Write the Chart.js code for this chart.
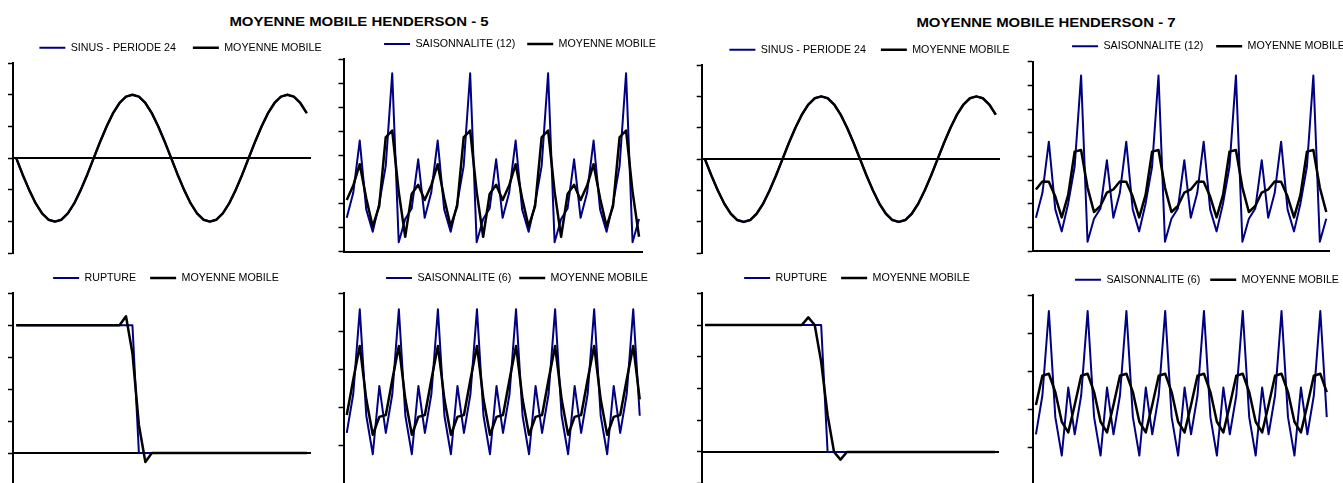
<!DOCTYPE html>
<html lang="fr">
<head>
<meta charset="utf-8">
<title>Moyennes mobiles de Henderson</title>
<script src="https://cdn.jsdelivr.net/npm/chart.js"></script>
<style>
  html, body { margin: 0; padding: 0; background: #fff; }
  body { width: 1343px; height: 483px; position: relative; overflow: hidden; }
  canvas { position: absolute; }
  .titre {
    position: absolute;
    font: bold 13px 'Liberation Sans', Arial, sans-serif;
    line-height: 13px;
    white-space: nowrap;
    color: #000;
    transform: translateX(-50%) scaleX(1.15);
    transform-origin: center;
  }
</style>
</head>
<body>
<div class="titre" style="left:359px; top:15px">MOYENNE MOBILE HENDERSON - 5</div>
<div class="titre" style="left:1046px; top:16px">MOYENNE MOBILE HENDERSON - 7</div>
<canvas id="sinusH5"></canvas>
<canvas id="saison12H5"></canvas>
<canvas id="ruptureH5"></canvas>
<canvas id="saison6H5"></canvas>
<canvas id="sinusH7"></canvas>
<canvas id="saison12H7"></canvas>
<canvas id="ruptureH7"></canvas>
<canvas id="saison6H7"></canvas>
<script>
// Periods shown on every panel
const periodes = [1, 2, 3, 4, 5, 6, 7, 8, 9, 10, 11, 12, 13, 14, 15, 16, 17, 18, 19, 20, 21, 22, 23,
  24, 25, 26, 27, 28, 29, 30, 31, 32, 33, 34, 35, 36, 37, 38, 39, 40, 41, 42, 43, 44, 45, 46];

// Sine wave, period 24, and its Henderson smoothings
const sinus = [0, -0.26, -0.5, -0.71, -0.87, -0.97, -1, -0.97, -0.87, -0.71, -0.5, -0.26,
  0, 0.26, 0.5, 0.71, 0.87, 0.97, 1, 0.97, 0.87, 0.71, 0.5, 0.26,
  0, -0.26, -0.5, -0.71, -0.87, -0.97, -1, -0.97, -0.87, -0.71, -0.5, -0.26,
  0, 0.26, 0.5, 0.71, 0.87, 0.97, 1, 0.97, 0.87, 0.71];
const sinusMM5 = [0, -0.26, -0.5, -0.71, -0.87, -0.97, -1, -0.97, -0.87, -0.71, -0.5, -0.26,
  0, 0.26, 0.5, 0.71, 0.87, 0.97, 1, 0.97, 0.87, 0.71, 0.5, 0.26,
  0, -0.26, -0.5, -0.71, -0.87, -0.97, -1, -0.97, -0.87, -0.71, -0.5, -0.26,
  0, 0.26, 0.5, 0.71, 0.87, 0.97, 1, 0.97, 0.87, 0.71];
const sinusMM7 = [0, -0.26, -0.5, -0.71, -0.87, -0.97, -1, -0.97, -0.87, -0.71, -0.5, -0.26,
  0, 0.26, 0.5, 0.71, 0.87, 0.97, 1, 0.97, 0.87, 0.71, 0.5, 0.26,
  0, -0.26, -0.5, -0.71, -0.87, -0.97, -1, -0.97, -0.87, -0.71, -0.5, -0.26,
  0, 0.26, 0.5, 0.71, 0.87, 0.97, 1, 0.97, 0.87, 0.71];

// Seasonal series with a 12-period cycle
const saison12 = [1.41, 2.45, 4.62, 1.76, 0.83, 2.01, 3.56, 7.42, 0.39, 1.36, 1.8, 3.84,
  1.41, 2.45, 4.62, 1.76, 0.83, 2.01, 3.56, 7.42, 0.39, 1.36, 1.8, 3.84,
  1.41, 2.45, 4.62, 1.76, 0.83, 2.01, 3.56, 7.42, 0.39, 1.36, 1.8, 3.84,
  1.41, 2.45, 4.62, 1.76, 0.83, 2.01, 3.56, 7.42, 0.39, 1.36];
const saison12MM5 = [2.15, 2.75, 3.64, 2.22, 1.05, 1.9, 4.75, 5.04, 2.5, 0.62, 2.4, 2.78,
  2.15, 2.75, 3.64, 2.22, 1.05, 1.9, 4.75, 5.04, 2.5, 0.62, 2.4, 2.78,
  2.15, 2.75, 3.64, 2.22, 1.05, 1.9, 4.75, 5.04, 2.5, 0.62, 2.4, 2.78,
  2.15, 2.75, 3.64, 2.22, 1.05, 1.9, 4.75, 5.04, 2.5, 0.62];
const saison12MM7 = [2.6, 2.94, 2.93, 2.3, 1.42, 2.37, 4.2, 4.27, 2.68, 1.65, 1.9, 2.47,
  2.6, 2.94, 2.93, 2.3, 1.42, 2.37, 4.2, 4.27, 2.68, 1.65, 1.9, 2.47,
  2.6, 2.94, 2.93, 2.3, 1.42, 2.37, 4.2, 4.27, 2.68, 1.65, 1.9, 2.47,
  2.6, 2.94, 2.93, 2.3, 1.42, 2.37, 4.2, 4.27, 2.68, 1.65];

// Level shift after period 19
const rupture = [1, 1, 1, 1, 1, 1, 1, 1, 1, 1, 1, 1, 1, 1, 1, 1, 1, 1, 1,
  0, 0, 0, 0, 0, 0, 0, 0, 0, 0, 0, 0, 0, 0, 0, 0, 0, 0, 0, 0, 0, 0, 0, 0, 0, 0, 0];
const ruptureMM5 = [1, 1, 1, 1, 1, 1, 1, 1, 1, 1, 1, 1, 1, 1, 1, 1, 1, 1.07, 0.78, 0.22, -0.07,
  0, 0, 0, 0, 0, 0, 0, 0, 0, 0, 0, 0, 0, 0, 0, 0, 0, 0, 0, 0, 0, 0, 0, 0, 0];
const ruptureMM7 = [1, 1, 1, 1, 1, 1, 1, 1, 1, 1, 1, 1, 1, 1, 1, 1, 1.06, 1, 0.71, 0.29, 0, -0.06,
  0, 0, 0, 0, 0, 0, 0, 0, 0, 0, 0, 0, 0, 0, 0, 0, 0, 0, 0, 0, 0, 0, 0, 0];

// Seasonal series with a 6-period cycle
const saison6 = [1.34, 2.36, 4.58, 1.79, 0.78, 2.57, 1.34, 2.36, 4.58, 1.79, 0.78, 2.57,
  1.34, 2.36, 4.58, 1.79, 0.78, 2.57, 1.34, 2.36, 4.58, 1.79, 0.78, 2.57,
  1.34, 2.36, 4.58, 1.79, 0.78, 2.57, 1.34, 2.36, 4.58, 1.79, 0.78, 2.57,
  1.34, 2.36, 4.58, 1.79, 0.78, 2.57, 1.34, 2.36, 4.58, 1.79];
const saison6MM5 = [1.81, 2.74, 3.62, 2.22, 1.29, 1.76, 1.81, 2.74, 3.62, 2.22, 1.29, 1.76,
  1.81, 2.74, 3.62, 2.22, 1.29, 1.76, 1.81, 2.74, 3.62, 2.22, 1.29, 1.76,
  1.81, 2.74, 3.62, 2.22, 1.29, 1.76, 1.81, 2.74, 3.62, 2.22, 1.29, 1.76,
  1.81, 2.74, 3.62, 2.22, 1.29, 1.76, 1.81, 2.74, 3.62, 2.22];
const saison6MM7 = [2.11, 2.88, 2.93, 2.45, 1.67, 1.39, 2.11, 2.88, 2.93, 2.45, 1.67, 1.39,
  2.11, 2.88, 2.93, 2.45, 1.67, 1.39, 2.11, 2.88, 2.93, 2.45, 1.67, 1.39,
  2.11, 2.88, 2.93, 2.45, 1.67, 1.39, 2.11, 2.88, 2.93, 2.45, 1.67, 1.39,
  2.11, 2.88, 2.93, 2.45, 1.67, 1.39, 2.11, 2.88, 2.93, 2.45];

// Legend labels
const libMM = 'MOYENNE MOBILE';
const libSinus = 'SINUS - PERIODE 24';
const libSaison12 = 'SAISONNALITE (12)';
const libRupture = 'RUPTURE';
const libSaison6 = 'SAISONNALITE (6)';

// Value axis ranges [min, max, step]
const axeSinus = [-1.5, 1.5, 0.5];
const axeSaison12 = [0, 8, 1];
const axeRupture = [-0.25, 1.25, 0.25];
const axeSaison6 = [0, 5, 1];

// ---- layout and style ----
const FONT = "'Liberation Sans', Arial, sans-serif";
const FONT_SIZE = 10.7;
const BOX = 26;
const BLUE = '#000080';
const BLACK = '#000000';

const panels = [
  { id: 'sinusH5', rowTop: 0, plot: { left: 13, right: 310, top: 63, bottom: 253.3 }, legendX: 39.3, gap: 17,
    axe: axeSinus, zero: true, serie: sinus, mm: sinusMM5, lib: libSinus },
  { id: 'saison12H5', rowTop: 0, plot: { left: 343.5, right: 642.3, top: 59.3, bottom: 251.7 }, legendX: 384.3, gap: 12,
    axe: axeSaison12, zero: false, serie: saison12, mm: saison12MM5, lib: libSaison12 },
  { id: 'ruptureH5', rowTop: 240, plot: { left: 13, right: 310, top: 293.3, bottom: 485 }, legendX: 53.3, gap: 14,
    axe: axeRupture, zero: true, serie: rupture, mm: ruptureMM5, lib: libRupture },
  { id: 'saison6H5', rowTop: 240, plot: { left: 343.5, right: 643, top: 293.3, bottom: 484 }, legendX: 386, gap: 8,
    axe: axeSaison6, zero: false, serie: saison6, mm: saison6MM5, lib: libSaison6 },
  { id: 'sinusH7', rowTop: 0, plot: { left: 701.7, right: 999, top: 65, bottom: 253.3 }, legendX: 729.3, gap: 15,
    axe: axeSinus, zero: true, serie: sinus, mm: sinusMM7, lib: libSinus },
  { id: 'saison12H7', rowTop: 0, plot: { left: 1032.7, right: 1329.5, top: 61.7, bottom: 251 }, legendX: 1072, gap: 13,
    axe: axeSaison12, zero: false, serie: saison12, mm: saison12MM7, lib: libSaison12 },
  { id: 'ruptureH7', rowTop: 240, plot: { left: 702, right: 998.3, top: 293.3, bottom: 483.7 }, legendX: 744, gap: 14,
    axe: axeRupture, zero: true, serie: rupture, mm: ruptureMM7, lib: libRupture },
  { id: 'saison6H7', rowTop: 240, plot: { left: 1032.7, right: 1330, top: 295, bottom: 485.3 }, legendX: 1075, gap: 10,
    axe: axeSaison6, zero: false, serie: saison6, mm: saison6MM7, lib: libSaison6 }
];

const measure = document.createElement('canvas').getContext('2d');
measure.font = FONT_SIZE + 'px ' + FONT;
const itemWidth = t => BOX + FONT_SIZE / 2 + measure.measureText(t).width;

panels.forEach(p => {
  const left = Math.round(p.plot.left - 6);
  const yWidth = p.plot.left - left;
  const content = itemWidth(p.lib) + p.gap + itemWidth(libMM);
  const width = Math.round(2 * (p.legendX - left) + content);
  const rightPad = width - yWidth - (p.plot.right - p.plot.left);
  const height = Math.ceil(p.plot.bottom - p.rowTop + 4);
  const padTop = p.plot.top - p.rowTop - (FONT_SIZE + p.gap + 10);
  const padBottom = height - (p.plot.bottom - p.rowTop);

  const canvas = document.getElementById(p.id);
  canvas.width = width;
  canvas.height = height;
  canvas.style.left = left + 'px';
  canvas.style.top = p.rowTop + 'px';
  canvas.style.width = width + 'px';
  canvas.style.height = height + 'px';

  new Chart(canvas, {
    type: 'line',
    data: {
      labels: periodes,
      datasets: [
        { label: p.lib, data: p.serie, borderColor: BLUE, backgroundColor: BLUE, borderWidth: 2,
          pointRadius: 0, pointBorderWidth: 2, pointBorderColor: BLUE, tension: 0,
          borderJoinStyle: 'round', order: 1, xAxisID: 'x', yAxisID: 'y' },
        { label: libMM, data: p.mm, borderColor: BLACK, backgroundColor: BLACK, borderWidth: 2.5,
          pointRadius: 0, pointBorderWidth: 2.5, pointBorderColor: BLACK, tension: 0,
          borderJoinStyle: 'round', order: 0, xAxisID: 'x', yAxisID: 'y' }
      ]
    },
    options: {
      responsive: false,
      animation: false,
      events: [],
      layout: { padding: { top: padTop, bottom: padBottom, left: 0, right: 0 } },
      plugins: {
        legend: {
          display: true,
          position: 'top',
          align: 'center',
          labels: {
            usePointStyle: true,
            pointStyle: 'line',
            pointStyleWidth: BOX,
            padding: p.gap,
            color: '#000',
            font: { family: FONT, size: FONT_SIZE },
            sort: (a, b) => a.datasetIndex - b.datasetIndex
          }
        },
        tooltip: { enabled: false },
        title: { display: false }
      },
      scales: {
        x: {
          type: 'category',
          offset: true,
          position: p.zero ? { y: 0 } : 'bottom',
          grid: { display: true, drawOnChartArea: false, drawTicks: false },
          ticks: { display: false },
          border: { display: true, color: '#000', width: 2 },
          afterFit: s => { s.height = 0; }
        },
        y: {
          type: 'linear',
          position: 'left',
          min: p.axe[0],
          max: p.axe[1],
          ticks: { display: false, stepSize: p.axe[2] },
          grid: { display: true, drawOnChartArea: false, drawTicks: true, tickLength: 5, tickColor: '#000', tickWidth: 1.5 },
          border: { display: true, color: '#000', width: 2 },
          afterFit: s => { s.width = yWidth; }
        },
        marge: {
          type: 'linear',
          position: 'right',
          display: true,
          grid: { display: false },
          ticks: { display: false },
          border: { display: false },
          afterFit: s => { s.width = rightPad; }
        }
      }
    }
  });
});
</script>
</body>
</html>
